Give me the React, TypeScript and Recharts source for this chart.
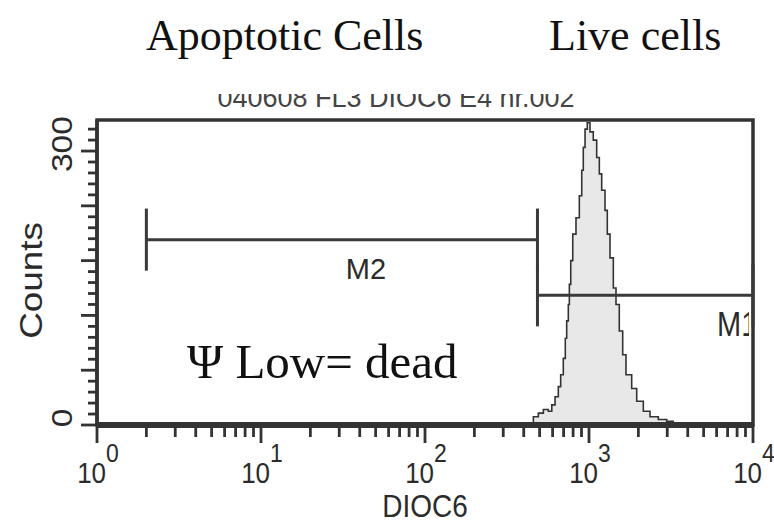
import React from 'react';
import { ComposedChart, Area, XAxis, YAxis, ReferenceLine, ReferenceArea } from 'recharts';

// Histogram (DIOC6 fluorescence, log scale) and event counts
const dioc6 = [1, 87, 100, 130, 160, 200, 250, 300, 380, 447, 458, 491, 527, 565, 593, 621, 650, 672, 697, 717, 731, 748, 759, 774, 796, 833, 873, 903, 923, 946, 976, 1014, 1062, 1114, 1156, 1195, 1252, 1293, 1343, 1407, 1461, 1530, 1605, 1681, 1821, 1954, 2144, 2355, 2647, 2977, 3266, 10000];
const counts = [0, 1, 1, 2, 1, 2, 2, 2, 2, 2, 9, 13, 17, 15, 22, 31, 42, 55, 73, 95, 114, 132, 154, 180, 209, 227, 251, 279, 304, 324, 331, 321, 312, 293, 275, 257, 235, 209, 183, 150, 132, 103, 77, 55, 40, 26, 15, 9, 6, 4, 0, 0];

const xTicks = [1, 2, 3, 4, 5, 6, 7, 8, 9, 10, 20, 30, 40, 50, 60, 70, 80, 90, 100, 200, 300, 400, 500, 600, 700, 800, 900, 1000, 2000, 3000, 4000, 5000, 6000, 7000, 8000, 9000, 10000];
const xMajor = [1, 10, 100, 1000, 10000];
const xExponent = ['0', '1', '2', '3', '4'];
const yTicks = [0, 12, 24, 36, 48, 60, 72, 84, 96, 108, 120, 132, 144, 156, 168, 180, 192, 204, 216, 228, 240, 252, 264, 276, 288, 300, 312, 324];
const yMajor = [0, 60, 120, 180, 240, 300];
const yLabelled = [0, 300];
const yMax = 334;

const gateNames = ['M2', 'M1'];
const gateFrom = [2, 485];
const gateTo = [485, 10000];
const gateLevel = [203, 142];
const gateHalf = 34;

const titles = ['Apoptotic Cells', 'Live cells'];
const note = 'Ψ Low= dead';
const header = '040608 FL3 DIOC6 E4 nr.002';
const xAxisTitle = 'DIOC6';
const yAxisTitle = 'Counts';

const data = dioc6.map((x, i) => ({ x, count: counts[i] }));

const SANS = '"Liberation Sans", Arial, Helvetica, sans-serif';
const SERIF = '"Liberation Serif", "Times New Roman", serif';
const INK = '#2b2b2b';
const LINE = '#333333';

const XTick = (props: any) => {
  const { x, y, payload } = props;
  const idx = xMajor.indexOf(payload.value);
  const major = idx >= 0;
  return (
    <g>
      <line x1={x} x2={x} y1={y} y2={y + (major ? 18 : 12)} stroke={LINE} strokeWidth={2.8} />
      {major && (
        <text transform={`translate(${x + 1},${y + 58}) scale(1,1.15)`} textAnchor="middle" fontFamily={SANS} fontSize={26} fill={INK}>
          10
          <tspan dx={0} dy={-18} fontSize={23}>{xExponent[idx]}</tspan>
        </text>
      )}
    </g>
  );
};

const YTick = (props: any) => {
  const { x, y, payload } = props;
  const v = payload.value;
  const major = yMajor.includes(v);
  const labelled = yLabelled.includes(v);
  return (
    <g>
      <line x1={x - (major ? 16 : 9)} x2={x} y1={y} y2={y} stroke={LINE} strokeWidth={2.8} />
      {labelled && (
        <text transform={`translate(${x - 25},${y - 7}) rotate(-90) scale(1.12,1)`} textAnchor="middle" fontFamily={SANS} fontSize={30} fill={INK}>
          {v}
        </text>
      )}
    </g>
  );
};

const gateLabel = (name: string, i: number) => (p: any) => {
  const vb = p.viewBox || {};
  if (i === 0) {
    return (
      <text x={vb.x + vb.width / 2 + 24} y={vb.y + 39} textAnchor="middle" fontFamily={SANS} fontSize={29} fill={INK}>
        {name}
      </text>
    );
  }
  return (
    <g>
      <defs>
        <clipPath id="gateLabelClip">
          <rect x={vb.x} y={vb.y} width={vb.width - 4} height={80} />
        </clipPath>
      </defs>
      <g clipPath="url(#gateLabelClip)">
        <text
          transform={`translate(${vb.x + vb.width - 36},${vb.y + 41}) scale(1,1.2)`}
          textAnchor="start"
          fontFamily={SANS}
          fontSize={29}
          fill={INK}
        >
          {name}
        </text>
      </g>
    </g>
  );
};

export default function App() {
  return (
    <div style={{ position: 'absolute', left: 0, top: 0, width: 774, height: 522, background: '#fff' }}>
      <ComposedChart width={774} height={522} data={data} margin={{ top: 120, right: 21, left: 0, bottom: 0 }}>
        <XAxis
          dataKey="x"
          type="number"
          scale="log"
          domain={[1, 10000]}
          allowDataOverflow
          ticks={xTicks}
          interval={0}
          tickLine={false}
          tickSize={0}
          tickMargin={0}
          axisLine={{ stroke: LINE, strokeWidth: 6 }}
          tick={<XTick />}
          height={97}
          label={{
            content: (p: any) => {
              const vb = p.viewBox || {};
              return (
                <text transform={`translate(${vb.x + vb.width / 2},${vb.y + 92}) scale(1,1.15)`} textAnchor="middle" fontFamily={SANS} fontSize={28} fill={INK}>
                  {xAxisTitle}
                </text>
              );
            },
          }}
        />
        <YAxis
          type="number"
          domain={[0, yMax]}
          allowDataOverflow
          ticks={yTicks}
          interval={0}
          tickLine={false}
          tickSize={0}
          tickMargin={0}
          axisLine={{ stroke: LINE, strokeWidth: 3.5 }}
          tick={<YTick />}
          width={97}
          label={{
            content: (p: any) => {
              const vb = p.viewBox || {};
              return (
                <text
                  transform={`translate(42,${vb.y + vb.height / 2 + 8}) rotate(-90) scale(1.15,1)`}
                  textAnchor="middle"
                  fontFamily={SANS}
                  fontSize={32}
                  fill={INK}
                >
                  {yAxisTitle}
                </text>
              );
            },
          }}
        />
        <Area
          dataKey="count"
          type="stepAfter"
          stroke={LINE}
          strokeWidth={1.6}
          fill="#e8e8e8"
          fillOpacity={1}
          dot={false}
          activeDot={false}
          isAnimationActive={false}
        />
        {gateNames.map((name, i) => (
          <ReferenceLine
            key={name + 'h'}
            segment={[
              { x: gateFrom[i], y: gateLevel[i] },
              { x: gateTo[i], y: gateLevel[i] },
            ]}
            stroke="#3a3a3a"
            strokeWidth={3}
            ifOverflow="visible"
            label={gateLabel(name, i)}
          />
        ))}
        {gateNames.map((name, i) => (
          <ReferenceLine
            key={name + 'a'}
            segment={[
              { x: gateFrom[i], y: gateLevel[i] - gateHalf },
              { x: gateFrom[i], y: gateLevel[i] + gateHalf },
            ]}
            stroke="#3a3a3a"
            strokeWidth={3}
            ifOverflow="visible"
          />
        ))}
        {gateNames.map((name, i) => (
          <ReferenceLine
            key={name + 'b'}
            segment={[
              { x: gateTo[i], y: gateLevel[i] - gateHalf },
              { x: gateTo[i], y: gateLevel[i] + gateHalf },
            ]}
            stroke="#3a3a3a"
            strokeWidth={3}
            ifOverflow="visible"
          />
        ))}
        <ReferenceArea x1={1} x2={10000} y1={0} y2={yMax} fill="none" fillOpacity={0} stroke={LINE} strokeWidth={3.5} ifOverflow="visible" />
      </ComposedChart>
      <svg width={774} height={522} style={{ position: 'absolute', left: 0, top: 0, pointerEvents: 'none' }}>
        <defs>
          <clipPath id="hdrClip">
            <rect x={0} y={94} width={774} height={24} />
          </clipPath>
        </defs>
        <text x={396} y={107} textAnchor="middle" fontFamily={SANS} fontSize={27} fill="#444" clipPath="url(#hdrClip)">
          {header}
        </text>
        <text x={146} y={50} fontFamily={SERIF} fontSize={44} fill="#111">{titles[0]}</text>
        <text x={549} y={50} fontFamily={SERIF} fontSize={44} fill="#111">{titles[1]}</text>
        <text x={187} y={378} fontFamily={SERIF} fontSize={49} fill="#111">{note}</text>
      </svg>
    </div>
  );
}
